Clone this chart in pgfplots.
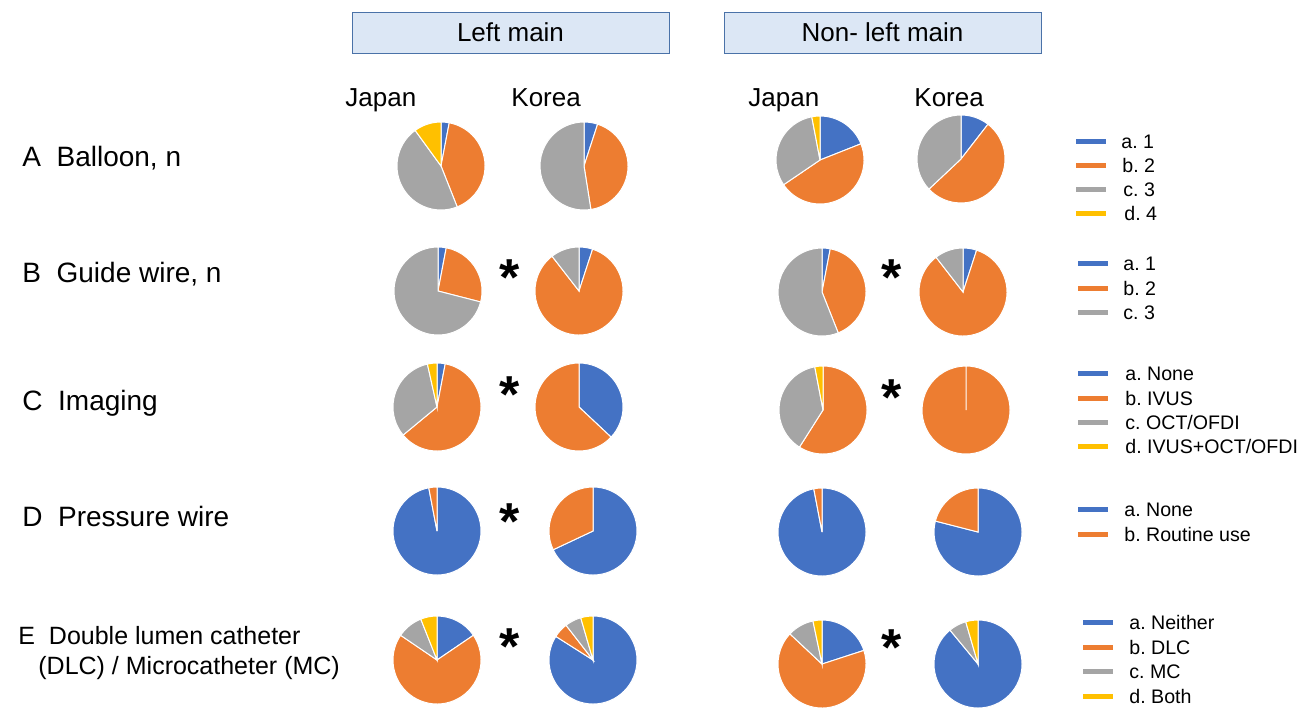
\documentclass[border=0pt]{standalone}
\usepackage{pgfplots}
\pgfplotsset{compat=1.18}
\usepackage{pgfplotstable}
\usepackage{fontspec}
\setmainfont{Liberation Sans}
\frenchspacing
\definecolor{cA}{HTML}{4472C4}
\definecolor{cB}{HTML}{ED7D31}
\definecolor{cC}{HTML}{A5A5A5}
\definecolor{cD}{HTML}{FFC000}
\definecolor{boxfill}{HTML}{DCE7F5}
\definecolor{boxedge}{HTML}{4A72A8}

% pie data: centre (pixels) and shares in percent (a, b, c, d), clockwise from 12 o'clock
\pgfplotstableread{
cx  cy  a    b    c    d
441 166 3    41   46   10
584 166 5    42.5 52.5 0
820 160 19   46.5 31.5 3
961 159 10.5 52.5 37   0
438 291 3    26   71   0
579 291 5    84.5 10.5 0
822 292 3    41   56   0
963 292 5    84.5 10.5 0
437 407 3    61   32.5 3.5
579 407 37   63   0    0
823 410 0    59   38   3
966 410 0    100  0    0
437 531 97   3    0    0
593 531 68   32   0    0
822 532 97   3    0    0
978 532 79   21   0    0
437 660 15.5 69   9.5  6
593 660 84   5.5  6    4.5
822 664 20   67   9.7  3.3
978 664 89   0    6.5  4.5
}\piedata

\newcommand\R{22pt}
\newcommand\slice[5]{%
  \pgfmathsetmacro\sA{90-3.6*#3}%
  \pgfmathsetmacro\eA{90-3.6*#4}%
  \fill[#5,draw=white,line width=0.5pt] (axis cs:#1,#2) -- ++(\sA:\R)
     arc[start angle=\sA,end angle=\eA,radius=\R] -- cycle;}

\newcommand\rowfont{\fontsize{14}{16}\selectfont}
\newcommand\efont{\fontsize{12.5}{14}\selectfont}
\newcommand\hfont{\fontsize{13}{15}\selectfont}
\newcommand\lfont{\fontsize{9.8}{11}\selectfont}
\newcommand\afont{\fontsize{26}{28}\selectfont\bfseries}

% legend entry: bar x, y, colour, text x, text
\newcommand\leg[5]{%
  \draw[#3,line width=2.5pt] (axis cs:#1,#2) -- (axis cs:#1+30,#2);
  \node[anchor=base west,font=\lfont,inner sep=0] at (axis cs:#4,#2+7) {#5};}

\begin{document}
\begin{tikzpicture}
\begin{axis}[x=0.5pt,y=0.5pt,xmin=0,xmax=1304,ymin=0,ymax=707,
  y dir=reverse,hide axis,clip=false]

\pgfplotsinvokeforeach{0,...,19}{%
 \pgfplotsextra{%
  \pgfplotstablegetelem{#1}{cx}\of\piedata \let\cx\pgfplotsretval
  \pgfplotstablegetelem{#1}{cy}\of\piedata \let\cy\pgfplotsretval
  \pgfplotstablegetelem{#1}{a}\of\piedata \let\va\pgfplotsretval
  \pgfplotstablegetelem{#1}{b}\of\piedata \let\vb\pgfplotsretval
  \pgfplotstablegetelem{#1}{c}\of\piedata \let\vc\pgfplotsretval
  \pgfplotstablegetelem{#1}{d}\of\piedata \let\vd\pgfplotsretval
  \pgfmathsetmacro\ca{\va}%
  \pgfmathsetmacro\cb{\ca+\vb}%
  \pgfmathsetmacro\cc{\cb+\vc}%
  \pgfmathsetmacro\cd{\cc+\vd}%
  \ifdim\va pt>0pt \slice{\cx}{\cy}{0}{\ca}{cA}\fi
  \ifdim\vb pt>0pt \slice{\cx}{\cy}{\ca}{\cb}{cB}\fi
  \ifdim\vc pt>0pt \slice{\cx}{\cy}{\cb}{\cc}{cC}\fi
  \ifdim\vd pt>0pt \slice{\cx}{\cy}{\cc}{\cd}{cD}\fi
 }}

% header boxes
\draw[fill=boxfill,draw=boxedge,line width=0.5pt] (axis cs:352,12) rectangle (axis cs:669,53);
\draw[fill=boxfill,draw=boxedge,line width=0.5pt] (axis cs:724,12) rectangle (axis cs:1041,53);
\node[anchor=base,font=\hfont,inner sep=0] at (axis cs:510.5,41) {Left main};
\node[anchor=base,font=\hfont,inner sep=0] at (axis cs:882.5,41) {Non- left main};

% country labels
\node[anchor=base west,font=\hfont,inner sep=0] at (axis cs:345,106) {Japan};
\node[anchor=base west,font=\hfont,inner sep=0] at (axis cs:511,106) {Korea};
\node[anchor=base west,font=\hfont,inner sep=0] at (axis cs:748,106) {Japan};
\node[anchor=base west,font=\hfont,inner sep=0] at (axis cs:914,106) {Korea};

% row labels
\node[anchor=base west,font=\rowfont,inner sep=0] at (axis cs:22,166) {A\ \ Balloon, n};
\node[anchor=base west,font=\rowfont,inner sep=0] at (axis cs:22,282) {B\ \ Guide wire, n};
\node[anchor=base west,font=\rowfont,inner sep=0] at (axis cs:22,410) {C\ \ Imaging};
\node[anchor=base west,font=\rowfont,inner sep=0] at (axis cs:22,526) {D\ \ Pressure wire};
\node[anchor=base west,font=\efont,inner sep=0] at (axis cs:18,644) {E\ \ Double lumen catheter};
\node[anchor=base west,font=\efont,inner sep=0] at (axis cs:38,674) {(DLC) / Microcatheter (MC)};

% asterisks (significant difference)
\foreach \ax/\ay in {510/268,892/268,510/385,892/388,510/512,510/637,892/638}{
  \edef\tmp{\noexpand\node[anchor=north,font=\noexpand\afont,inner sep=0] at (axis cs:\ax,\ay-9) {*};}\tmp}

% legends
\leg{1076}{141}{cA}{1121}{a. 1}
\leg{1076}{165}{cB}{1122}{b. 2}
\leg{1076}{189}{cC}{1123}{c. 3}
\leg{1076}{213}{cD}{1124}{d. 4}
\leg{1078}{263}{cA}{1123}{a. 1}
\leg{1078}{288}{cB}{1123}{b. 2}
\leg{1078}{312}{cC}{1123}{c. 3}
\leg{1078}{373}{cA}{1125}{a. None}
\leg{1078}{398}{cB}{1125}{b. IVUS}
\leg{1078}{422}{cC}{1125}{c. OCT/OFDI}
\leg{1078}{446}{cD}{1125}{d. IVUS+OCT/OFDI}
\leg{1078}{509}{cA}{1124}{a. None}
\leg{1078}{534}{cB}{1124}{b. Routine use}
\leg{1083}{622}{cA}{1129}{a. Neither}
\leg{1083}{647}{cB}{1129}{b. DLC}
\leg{1083}{671}{cC}{1129}{c. MC}
\leg{1083}{696}{cD}{1129}{d. Both}
\end{axis}
\pgfresetboundingbox
\useasboundingbox (current axis.south west) rectangle (current axis.north east);
\end{tikzpicture}
\end{document}
